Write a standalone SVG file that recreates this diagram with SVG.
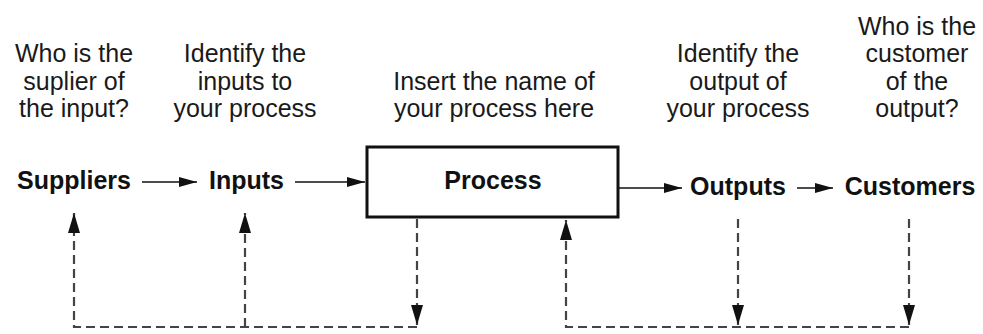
<svg xmlns="http://www.w3.org/2000/svg" width="983" height="334" viewBox="0 0 983 334">
<style>
.q{font-family:"Liberation Sans",Arial,sans-serif;font-size:25px;fill:#1a1a1a;text-anchor:middle}
.n{font-family:"Liberation Sans",Arial,sans-serif;font-size:25px;font-weight:bold;fill:#111;text-anchor:middle}
.s{stroke:#111;stroke-width:1.7;fill:none}
.d{stroke:#444;stroke-width:2.2;fill:none;stroke-dasharray:9 5}
</style>
<defs>
<marker id="ah" markerUnits="userSpaceOnUse" markerWidth="18" markerHeight="11" refX="18" refY="5.5" orient="auto"><path d="M0,0.5 L18,5.5 L0,10.5 z" fill="#111"/></marker>
<marker id="dh" markerUnits="userSpaceOnUse" markerWidth="20" markerHeight="13" refX="20" refY="6.5" orient="auto"><path d="M0,0.5 L20,6.5 L0,12.5 z" fill="#111"/></marker>
</defs>
<rect width="983" height="334" fill="#fff"/>
<g id="q-suppliers" class="q"><text x="74" y="62">Who is the</text><text x="74" y="89.5">suplier of</text><text x="74" y="117">the input?</text></g>
<g id="q-inputs" class="q"><text x="245" y="62">Identify the</text><text x="245" y="89.5">inputs to</text><text x="245" y="117">your process</text></g>
<g id="q-process" class="q"><text x="494" y="89.5">Insert the name of</text><text x="494" y="117">your process here</text></g>
<g id="q-outputs" class="q"><text x="738" y="62">Identify the</text><text x="738" y="89.5">output of</text><text x="738" y="117">your process</text></g>
<g id="q-customers" class="q"><text x="917" y="34.5">Who is the</text><text x="917" y="62">customer</text><text x="917" y="89.5">of the</text><text x="917" y="117">output?</text></g>
<g id="suppliers"><text class="n" x="74" y="189">Suppliers</text></g>
<g id="inputs"><text class="n" x="246.5" y="189">Inputs</text></g>
<g id="process"><rect x="367" y="147" width="251" height="70" fill="#fff" stroke="#111" stroke-width="3"/><text class="n" x="493" y="189">Process</text></g>
<g id="outputs"><text class="n" x="738" y="195">Outputs</text></g>
<g id="customers"><text class="n" x="910" y="195">Customers</text></g>
<g id="connectors">
<line class="s" x1="142" y1="182" x2="197" y2="182" marker-end="url(#ah)"/>
<line class="s" x1="295" y1="182" x2="365" y2="182" marker-end="url(#ah)"/>
<line class="s" x1="619" y1="188" x2="682" y2="188" marker-end="url(#ah)"/>
<line class="s" x1="797" y1="188" x2="833" y2="188" marker-end="url(#ah)"/>
<path class="d" d="M417,219 V325" marker-end="url(#dh)"/>
<path class="d" d="M417,327 H74 V213" marker-end="url(#dh)"/>
<path class="d" d="M245,327 V213" marker-end="url(#dh)"/>
<path class="d" d="M738,219 V325" marker-end="url(#dh)"/>
<path class="d" d="M909,219 V325" marker-end="url(#dh)"/>
<path class="d" d="M909,327 H566 V220" marker-end="url(#dh)"/>
</g>
</svg>
